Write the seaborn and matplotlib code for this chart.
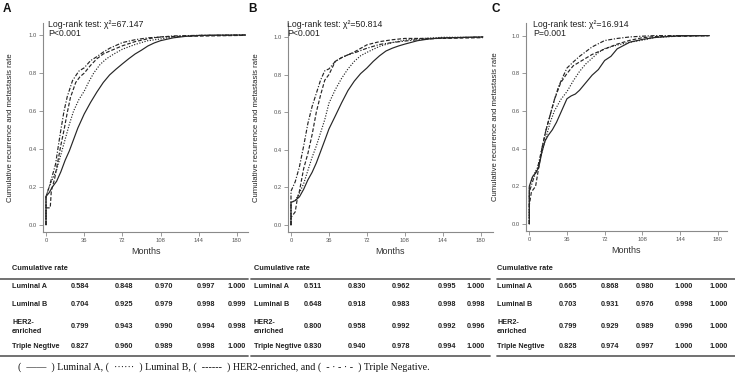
import numpy as np
import pandas as pd
import matplotlib
matplotlib.use("Agg")
import matplotlib.pyplot as plt
from matplotlib.lines import Line2D
import seaborn as sns

# ---------------- data ----------------
SUBTYPES = ["Luminal A", "Luminal B", "HER2-enriched", "Triple Negative"]
ROW_LABELS = ["Luminal A", "Luminal B", "HER2-\nenriched", "Triple Negtive"]
X_TICKS = [0, 36, 72, 108, 144, 180]
Y_TICKS = [0.0, 0.2, 0.4, 0.6, 0.8, 1.0]
PANEL_LETTERS = ["A", "B", "C"]
CHI2_TEXT = ["Log-rank test: \u03c7\u00b2=67.147", "Log-rank test: \u03c7\u00b2=50.814", "Log-rank test: \u03c7\u00b2=16.914"]
P_TEXT = ["P<0.001", "P<0.001", "P=0.001"]

# Panel A curves (months, cumulative rate)
A_LUMA_M = [0, 0, 3, 6, 10, 14, 18, 22, 26, 30, 36, 42, 48, 54, 60, 66, 72, 78, 84, 90, 96, 102, 108, 120, 132, 144, 160, 188]
A_LUMA_R = [0, 0.15, 0.17, 0.20, 0.23, 0.28, 0.34, 0.39, 0.45, 0.51, 0.584, 0.645, 0.70, 0.75, 0.79, 0.82, 0.848, 0.875, 0.90, 0.92, 0.942, 0.958, 0.970, 0.985, 0.993, 0.997, 0.999, 1.0]
A_LUMB_M = [0, 0, 3, 6, 10, 14, 18, 22, 26, 31, 36, 40, 45, 51, 57, 64, 72, 84, 96, 108, 120, 144, 188]
A_LUMB_R = [0, 0.15, 0.20, 0.24, 0.29, 0.37, 0.45, 0.53, 0.60, 0.66, 0.704, 0.75, 0.80, 0.845, 0.875, 0.90, 0.925, 0.95, 0.97, 0.979, 0.99, 0.998, 0.999]
A_HER2_M = [0, 0, 4, 5, 8, 11, 14, 17, 20, 23, 28, 32, 36, 42, 48, 54, 60, 72, 84, 96, 108, 120, 144, 188]
A_HER2_R = [0, 0.09, 0.09, 0.18, 0.24, 0.33, 0.42, 0.50, 0.59, 0.67, 0.75, 0.78, 0.799, 0.84, 0.875, 0.90, 0.915, 0.943, 0.965, 0.98, 0.990, 0.992, 0.994, 0.998]
A_TN_M = [0, 0, 3, 6, 9, 12, 14, 17, 20, 25, 31, 36, 42, 48, 54, 60, 72, 84, 96, 108, 120, 144, 188]
A_TN_R = [0, 0.15, 0.20, 0.26, 0.32, 0.43, 0.50, 0.60, 0.675, 0.76, 0.81, 0.827, 0.865, 0.886, 0.91, 0.93, 0.960, 0.975, 0.985, 0.989, 0.995, 0.998, 1.0]

# Panel B curves
B_LUMA_M = [0, 0, 4, 8, 12, 16, 20, 24, 28, 32, 36, 42, 48, 54, 60, 66, 72, 78, 84, 90, 96, 102, 108, 120, 132, 144, 182]
B_LUMA_R = [0, 0.12, 0.13, 0.15, 0.19, 0.24, 0.28, 0.33, 0.39, 0.45, 0.511, 0.58, 0.65, 0.715, 0.765, 0.805, 0.835, 0.87, 0.90, 0.925, 0.94, 0.952, 0.962, 0.98, 0.99, 0.995, 1.0]
B_LUMB_M = [0, 0, 4, 8, 12, 16, 20, 24, 28, 32, 36, 42, 48, 54, 60, 66, 72, 84, 96, 108, 120, 144, 182]
B_LUMB_R = [0, 0.12, 0.13, 0.17, 0.22, 0.29, 0.36, 0.42, 0.49, 0.56, 0.648, 0.72, 0.78, 0.83, 0.87, 0.90, 0.918, 0.95, 0.97, 0.983, 0.99, 0.998, 0.998]
B_HER2_M = [0, 0, 4, 6, 8, 12, 16, 20, 24, 28, 32, 36, 42, 48, 54, 60, 72, 84, 96, 108, 144, 182]
B_HER2_R = [0, 0.04, 0.07, 0.14, 0.18, 0.30, 0.38, 0.48, 0.60, 0.69, 0.77, 0.800, 0.87, 0.89, 0.905, 0.92, 0.958, 0.975, 0.985, 0.992, 0.992, 0.996]
B_TN_M = [0, 0, 4, 8, 12, 16, 20, 24, 28, 32, 36, 42, 48, 54, 60, 72, 84, 96, 108, 120, 144, 182]
B_TN_R = [0, 0.18, 0.23, 0.31, 0.42, 0.54, 0.63, 0.70, 0.77, 0.82, 0.830, 0.87, 0.89, 0.905, 0.915, 0.940, 0.96, 0.97, 0.978, 0.985, 0.994, 1.0]

# Panel C curves
C_LUMA_M = [0, 0, 3, 6, 9, 12, 15, 18, 22, 26, 30, 36, 40, 44, 48, 54, 60, 66, 72, 78, 84, 96, 108, 120, 144, 172]
C_LUMA_R = [0, 0.20, 0.25, 0.27, 0.30, 0.38, 0.44, 0.47, 0.50, 0.54, 0.59, 0.665, 0.68, 0.69, 0.71, 0.75, 0.79, 0.82, 0.868, 0.89, 0.93, 0.965, 0.980, 0.99, 1.0, 1.0]
C_LUMB_M = [0, 0, 4, 8, 12, 16, 20, 24, 30, 36, 42, 48, 54, 60, 66, 72, 84, 96, 108, 120, 144, 172]
C_LUMB_R = [0, 0.20, 0.26, 0.30, 0.38, 0.46, 0.54, 0.60, 0.66, 0.703, 0.76, 0.81, 0.85, 0.88, 0.91, 0.931, 0.95, 0.965, 0.976, 0.99, 0.998, 1.0]
C_HER2_M = [0, 0, 2, 6, 9, 12, 16, 20, 24, 30, 36, 42, 48, 54, 60, 72, 84, 96, 108, 120, 144, 172]
C_HER2_R = [0, 0.10, 0.17, 0.20, 0.30, 0.40, 0.50, 0.58, 0.66, 0.75, 0.799, 0.84, 0.86, 0.88, 0.90, 0.929, 0.955, 0.975, 0.989, 0.995, 0.996, 1.0]
C_TN_M = [0, 0, 4, 8, 12, 16, 20, 24, 28, 32, 36, 42, 48, 54, 60, 72, 84, 96, 108, 120, 172]
C_TN_R = [0, 0.17, 0.24, 0.30, 0.40, 0.50, 0.58, 0.66, 0.73, 0.78, 0.828, 0.86, 0.89, 0.915, 0.94, 0.974, 0.985, 0.993, 0.997, 1.0, 1.0]

# Cumulative-rate tables (36, 72, 108, 144, 180 months)
TAB_A = [[0.584, 0.848, 0.970, 0.997, 1.000],
         [0.704, 0.925, 0.979, 0.998, 0.999],
         [0.799, 0.943, 0.990, 0.994, 0.998],
         [0.827, 0.960, 0.989, 0.998, 1.000]]
TAB_B = [[0.511, 0.830, 0.962, 0.995, 1.000],
         [0.648, 0.918, 0.983, 0.998, 0.998],
         [0.800, 0.958, 0.992, 0.992, 0.996],
         [0.830, 0.940, 0.978, 0.994, 1.000]]
TAB_C = [[0.665, 0.868, 0.980, 1.000, 1.000],
         [0.703, 0.931, 0.976, 0.998, 1.000],
         [0.799, 0.929, 0.989, 0.996, 1.000],
         [0.828, 0.974, 0.997, 1.000, 1.000]]

CAPTION = ("(  \u2014\u2014  ) Luminal A, (  \u00b7\u00b7\u00b7\u00b7\u00b7\u00b7  ) Luminal B, "
           "(  ------  ) HER2-enriched, and (  - \u00b7 - \u00b7 -  ) Triple Negative.")

# ---------------- styling ----------------
sns.set_style("white")
plt.rcParams["font.family"] = ["Liberation Sans", "DejaVu Sans"]

W, H = 735, 383
fig = plt.figure(figsize=(W / 100, H / 100), dpi=100)
fig.patch.set_facecolor("white")

LINE_COLOR = "#262626"
DASHES = {"Luminal A": "", "Luminal B": (1.0, 1.3),
          "HER2-enriched": (3.2, 1.6), "Triple Negative": (3.4, 1.4, 1.0, 1.4)}


def fx(px):
    return px / W


def fy(py):
    return 1 - py / H


def make_df(series):
    frames = []
    for name, (m, r) in zip(SUBTYPES, series):
        frames.append(pd.DataFrame({"month": m, "rate": r, "subtype": name}))
    return pd.concat(frames, ignore_index=True)


panels = [
    dict(box=(43, 23, 248, 232), xlim=(-2.83, 190.4), ylim=(-0.037, 1.063),
         series=[(A_LUMA_M, A_LUMA_R), (A_LUMB_M, A_LUMB_R), (A_HER2_M, A_HER2_R), (A_TN_M, A_TN_R)],
         letter_xy=(3, 3), text_x=48, ylab_x=14),
    dict(box=(288, 23, 493, 232), xlim=(-2.84, 191.5), ylim=(-0.037, 1.074),
         series=[(B_LUMA_M, B_LUMA_R), (B_LUMB_M, B_LUMB_R), (B_HER2_M, B_HER2_R), (B_TN_M, B_TN_R)],
         letter_xy=(248, 3), text_x=287, ylab_x=260),
    dict(box=(526, 23, 727, 231), xlim=(-3.15, 188.9), ylim=(-0.037, 1.067),
         series=[(C_LUMA_M, C_LUMA_R), (C_LUMB_M, C_LUMB_R), (C_HER2_M, C_HER2_R), (C_TN_M, C_TN_R)],
         letter_xy=(492, 3), text_x=533, ylab_x=499),
]

for i, p in enumerate(panels):
    l, t, r, b = p["box"]
    ax = fig.add_axes([fx(l), fy(b), (r - l) / W, (b - t) / H])
    df = make_df(p["series"])
    sns.lineplot(data=df, x="month", y="rate", style="subtype", dashes=DASHES,
                 estimator=None, sort=False, color=LINE_COLOR, linewidth=0.85,
                 legend=False, ax=ax)
    ax.set_xlim(*p["xlim"])
    ax.set_ylim(*p["ylim"])
    ax.set_xticks(X_TICKS)
    ax.set_yticks(Y_TICKS)
    ax.set_xticklabels([str(v) for v in X_TICKS])
    ax.set_yticklabels([f"{v:.1f}" for v in Y_TICKS])
    for s in ["top", "right"]:
        ax.spines[s].set_visible(False)
    for s in ["left", "bottom"]:
        ax.spines[s].set_color("#8a8a8a")
        ax.spines[s].set_linewidth(0.8)
    ax.tick_params(axis="both", which="both", direction="out", length=3, width=0.6,
                   color="#8a8a8a", labelsize=4.2, labelcolor="#555555", pad=1.5,
                   left=True, bottom=True)
    ax.set_xlabel("Months", fontsize=6.5, color="#333333", labelpad=3)
    ax.set_ylabel("Cumulative recurrence and metastasis rate", fontsize=5.6, color="#222222")
    ax.yaxis.set_label_coords((p["ylab_x"] - l) / (r - l), 0.5)
    ax.set_facecolor("white")

    lx, ly = p["letter_xy"]
    fig.text(fx(lx), fy(ly), PANEL_LETTERS[i], fontsize=8.5, fontweight="bold",
             ha="left", va="top", color="#111111")
    fig.text(fx(p["text_x"]), fy(20), CHI2_TEXT[i], fontsize=6.3, ha="left", va="top",
             color="#222222")
    fig.text(fx(p["text_x"]), fy(29.5), P_TEXT[i], fontsize=6.3, ha="left", va="top",
             color="#222222")

# ---------------- tables ----------------
tables = [
    dict(vals=TAB_A, x0=0, x1=248, label_x=12, cols=[80, 124, 164, 206, 237]),
    dict(vals=TAB_B, x0=251, x1=490, label_x=254, cols=[313, 357, 401, 447, 476]),
    dict(vals=TAB_C, x0=497, x1=735, label_x=497, cols=[568, 610, 645, 684, 719]),
]
ROW_Y = [287, 305, 327, 347]
TCOL = "#222222"
for tb in tables:
    fig.text(fx(tb["label_x"]), fy(268), "Cumulative rate", fontsize=5.3, fontweight="bold",
             ha="left", va="center", color=TCOL)
    for y in (279, 356):
        fig.add_artist(Line2D([fx(tb["x0"]), fx(tb["x1"])], [fy(y), fy(y)],
                              transform=fig.transFigure, color="#666666", linewidth=1.3))
    for ri, row in enumerate(tb["vals"]):
        fig.text(fx(tb["label_x"]), fy(ROW_Y[ri]), ROW_LABELS[ri], fontsize=5.2,
                 fontweight="bold", ha="left", va="center", color=TCOL, linespacing=1.5)
        for ci, v in enumerate(row):
            fig.text(fx(tb["cols"][ci]), fy(ROW_Y[ri]), f"{v:.3f}", fontsize=5.3,
                     fontweight="bold", ha="center", va="center", color=TCOL)

fig.text(fx(18), fy(367), CAPTION, fontsize=7.2, family=["Liberation Serif", "DejaVu Serif"],
         ha="left", va="center", color="#111111")

fig.savefig("out.png", dpi=100, facecolor="white")
